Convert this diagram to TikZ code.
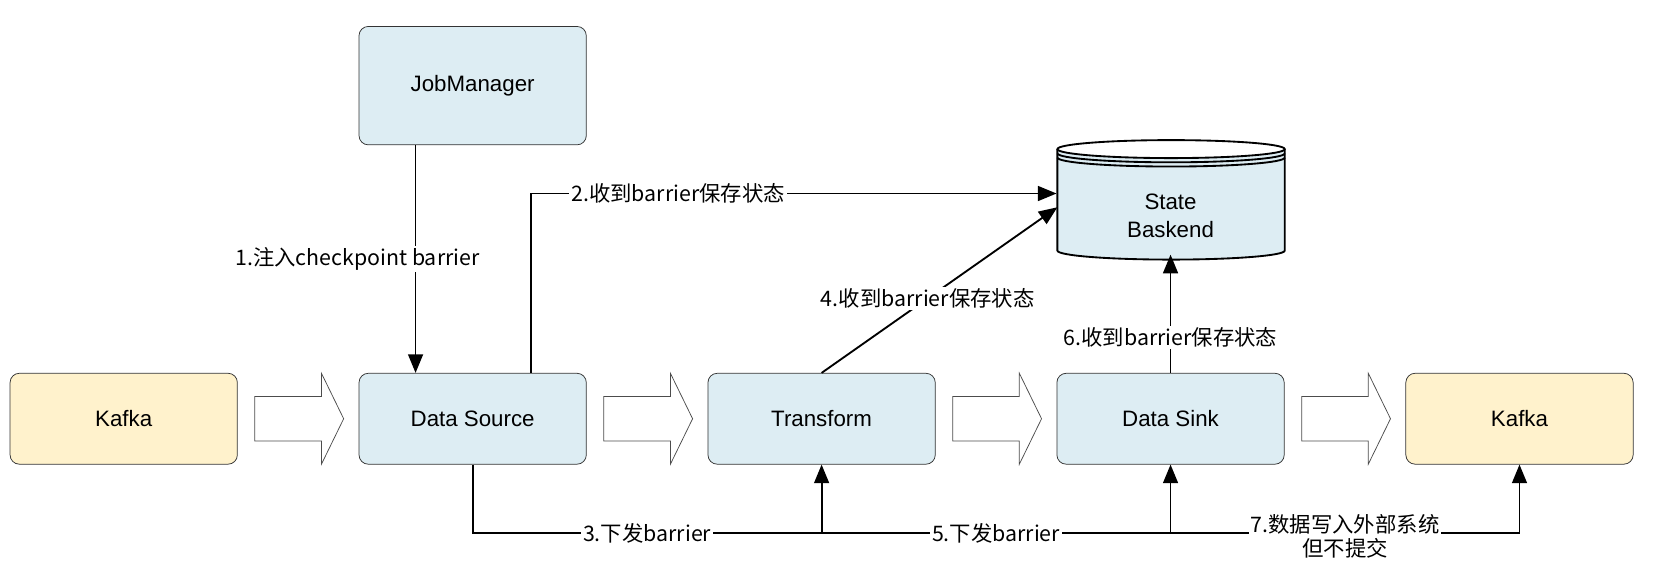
\documentclass[tikz,border=0pt]{standalone}
\usepackage{fontspec}
\setmainfont{Liberation Sans}
\newfontfamily\cjk{Noto Sans CJK SC}
\usetikzlibrary{arrows.meta}
\definecolor{boxblue}{HTML}{DDEDF3}
\definecolor{boxyellow}{HTML}{FFF2CC}
\begin{document}
\begin{tikzpicture}
		[x=0.02cm,y=-0.02cm,
		task/.style={rectangle,rounded corners=5pt,draw=black!80,fill=boxblue,
inner sep=0pt,minimum width=4.3cm,minimum height=1.72cm,font=\fontsize{12}{14}\selectfont},
		ext/.style={task,fill=boxyellow},
		lbl/.style={fill=white,inner sep=1pt,font=\cjk\fontsize{11.5}{13}\selectfont},
		flow/.style={-{Triangle[length=10pt,width=8pt]},line width=1pt}]
		\useasboundingbox (0,0) rectangle (1568,552);
		\node at (447, 81) (jm) [task,minimum height=2.24cm] {JobManager};
		\node at (117,396) (kin) [ext] {Kafka};
		\node at (447,396) (src) [task] {Data Source};
		\node at (777,396) (tf) [task] {Transform};
		\node at (1107,396) (sink) [task] {Data Sink};
		\node at (1437,396) (kout) [ext] {Kafka};
		% state backend
		\node at (1107,188) (sb) [rectangle,minimum width=4.3cm,minimum height=2.1cm,inner sep=0pt] {};
		\fill[boxblue] (1000,141) -- (1000,237) arc[start angle=180,end angle=0,x radius=107.5,y radius=8.5]
			-- (1215,141) arc[start angle=0,end angle=180,x radius=107.5,y radius=8.5];
		\draw[line width=1pt] (1000,141) -- (1000,237) arc[start angle=180,end angle=0,x radius=107.5,y radius=8.5] -- (1215,141);
		\draw[line width=1pt] (1107.5,141) ellipse[x radius=107.5,y radius=8.5];
		\draw[line width=1pt] (1000,145) arc[start angle=180,end angle=0,x radius=107.5,y radius=8.5];
		\draw[line width=1pt] (1000,149) arc[start angle=180,end angle=0,x radius=107.5,y radius=8.5];
		\node at (1107,204) [align=center,font=\fontsize{12}{15}\selectfont] {State\\Baskend};
		% block arrows
		\foreach \x in {241,571,901,1231}
			\draw[black!70,fill=white] (\x,375) -- (\x+63,375) -- (\x+63,353) -- (\x+84,396)
				-- (\x+63,439) -- (\x+63,417) -- (\x,417) -- cycle;
		% barrier flow
		\draw[flow] (jm.south -| 393,0) -- node[lbl,xshift=-1.1cm] {1.注入checkpoint barrier} (src.north -| 393,0);
		\draw[flow] (src.north -| 502,0) |- node[lbl,pos=0.64] {2.收到barrier保存状态} (sb.west |- 0,183);
		\draw[flow] (tf.north) -- node[lbl,pos=0.45] {4.收到barrier保存状态} (1000,196);
		\draw[flow] (sink.north) -- node[lbl,pos=0.3] {6.收到barrier保存状态} (sb.south);
		\coordinate (b1) at (777,504);
		\coordinate (b2) at (1107,504);
		\draw[line width=1pt] (src.south) |- node[lbl,pos=0.75] {3.下发barrier} (b1);
		\draw[flow] (b1) -- (tf.south);
		\draw[line width=1pt] (b1) -- node[lbl] {5.下发barrier} (b2);
		\draw[flow] (b2) -- (sink.south);
		\draw[flow] (b2) -| node[lbl,pos=0.25,align=center,yshift=-2pt] {7.数据写入外部系统\\但不提交} (kout.south);
	\end{tikzpicture}
\end{document}
